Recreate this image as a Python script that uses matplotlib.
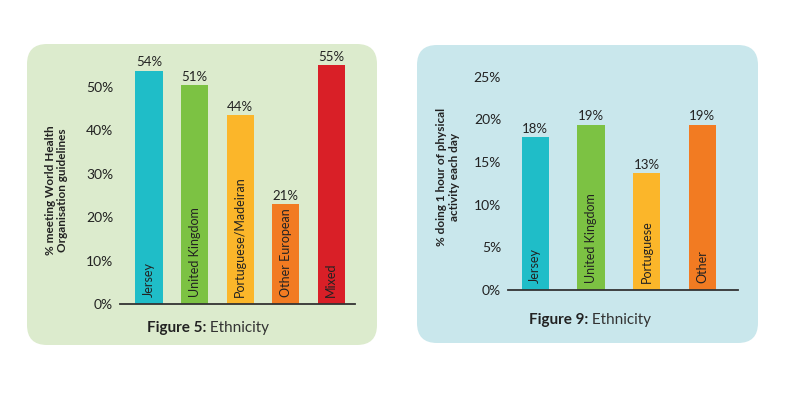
import matplotlib
matplotlib.use("Agg")
import matplotlib.pyplot as plt
from matplotlib.patches import FancyBboxPatch
from matplotlib.transforms import IdentityTransform

plt.rcParams["font.family"] = ["Lato", "DejaVu Sans"]

# figure 5 data
eth5 = ["Jersey", "United Kingdom", "Portuguese/Madeiran", "Other European", "Mixed"]
val5 = [53.8, 50.5, 43.5, 23.0, 55.0]
lab5 = ["54%", "51%", "44%", "21%", "55%"]
col5 = ["#1fbdc8", "#7cc243", "#fbb62a", "#f27b22", "#d91f27"]

# figure 9 data
eth9 = ["Jersey", "United Kingdom", "Portuguese", "Other"]
val9 = [17.9, 19.4, 13.7, 19.4]
lab9 = ["18%", "19%", "13%", "19%"]
col9 = ["#1fbdc8", "#7cc243", "#fbb62a", "#f27b22"]

W, H = 800, 400
fig = plt.figure(figsize=(8, 4), dpi=100)
fig.patch.set_facecolor("white")

# rounded panel backgrounds (pixel coords, origin bottom-left)
for (x0, y0, x1, y1, c) in [(27, 55, 377, 356, "#dcebcd"), (417, 57, 758, 355, "#c9e7ec")]:
    p = FancyBboxPatch((x0, y0), x1 - x0, y1 - y0,
                       boxstyle="round,pad=0,rounding_size=20",
                       transform=IdentityTransform(), facecolor=c, edgecolor="none", zorder=-5)
    fig.patches.append(p)

txt = "#222222"


def panel(rect, names, vals, labels, colors, ymax, tick_max, step, width, xlim, ylabel, ylab_xy):
    ax = fig.add_axes(rect)
    ax.patch.set_alpha(0)
    x = range(len(names))
    ax.bar(x, vals, width=width, color=colors, zorder=2)
    for i, (v, l, n) in enumerate(zip(vals, labels, names)):
        ax.annotate(l, (i, v), xytext=(0, 1.5), textcoords="offset points",
                    ha="center", va="bottom", fontsize=9.5, color=txt)
        ax.annotate(n, (i, 0), xytext=(0, 5), textcoords="offset points",
                    ha="center", va="bottom", rotation=90, fontsize=9, color=txt)
    ax.set_xlim(*xlim)
    ax.set_ylim(0, ymax)
    ticks = list(range(0, tick_max + 1, step))
    ax.set_yticks(ticks)
    ax.set_yticklabels([f"{t}%" for t in ticks], fontsize=10, color=txt)
    ax.set_xticks([])
    ax.tick_params(axis="y", length=0, pad=5)
    for s in ["top", "right", "left"]:
        ax.spines[s].set_visible(False)
    ax.spines["bottom"].set_color("#333333")
    ax.spines["bottom"].set_linewidth(1.3)
    ax.set_ylabel(ylabel, fontsize=8.5, fontweight="bold", color=txt, linespacing=1.15)
    ax.yaxis.set_label_coords(*ylab_xy)
    return ax


ax1 = panel([120 / W, 1 - 304 / H, 235 / W, 58 * 4.34 / H], eth5, val5, lab5, col5,
            58, 50, 10, 0.6, (-0.64, 4.52),
            "% meeting World Health\nOrganisation guidelines", (-0.22, 0.453))
ax2 = panel([508 / W, 1 - 290 / H, 230 / W, 26 * 8.53 / H], eth9, val9, lab9, col9,
            26, 25, 5, 0.49, (-0.49, 3.64),
            "% doing 1 hour of physical\nactivity each day", (-0.21, 0.51))

# figure captions: bold part + regular part
for xr, yc, lead in [(206, 328, "Figure 5:"), (588, 320, "Figure 9:")]:
    t = fig.text(xr / W, 1 - yc / H, lead, ha="right", va="center",
                 fontsize=11, fontweight="bold", color=txt)
    fig.add_artist(plt.Annotation(" Ethnicity", xy=(1, 0), xycoords=t, va="bottom",
                                  ha="left", fontsize=11, color="#333333"))

fig.savefig("out.png", dpi=100, facecolor="white")
